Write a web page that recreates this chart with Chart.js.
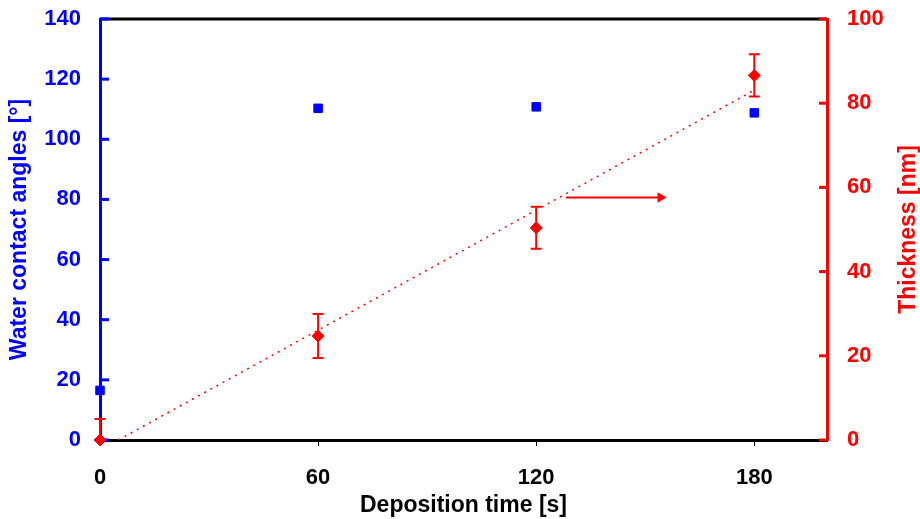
<!DOCTYPE html>
<html>
<head>
<meta charset="utf-8">
<script src="https://cdn.jsdelivr.net/npm/chart.js@4.4.1/dist/chart.umd.min.js"></script>
<style>
html, body { margin: 0; padding: 0; background: #fff; }
#wrap { width: 920px; height: 519px; }
</style>
</head>
<body>
<div id="wrap"><canvas id="chart"></canvas></div>
<script>
// data
var times = [0, 60, 120, 180];
var angles = [16.5, 110.3, 110.8, 108.8];
var thickness = [0, 24.7, 50.4, 86.6];
var thicknessErr = [5, 5.2, 5, 5];
var fitX = [0, 180];
var fitY = [-2.4, 83.1];
var arrowX = [128.2, 154.2];
var arrowY = [57.6, 57.6];
var xTicks = [0, 60, 120, 180];

var BLUE = '#0000ff';
var RED = '#ff0000';
var tickFont = { family: 'Liberation Sans, Arial, sans-serif', weight: 'bold', size: 22 };
var titleFont = { family: 'Liberation Sans, Arial, sans-serif', weight: 'bold', size: 23 };

function pts(xs, ys) {
	return xs.map(function(x, i) { return { x: x, y: ys[i] }; });
}

// fixed axis sizes so the plot area lands where it is in the picture
function fixWidth(w) {
	return function(scale) {
		scale.width = w;
		scale.paddingTop = 0;
		scale.paddingBottom = 0;
	};
}

var extras = {
	id: 'extras',
	beforeDatasetsDraw: function(chart) {
		var ctx = chart.ctx;
		var a = chart.chartArea;
		var x = chart.scales.x;
		var y = chart.scales.y;
		var y2 = chart.scales.y2;
		ctx.save();
		// top frame line
		ctx.strokeStyle = '#000';
		ctx.lineWidth = 3;
		ctx.beginPath();
		ctx.moveTo(a.left, a.top);
		ctx.lineTo(a.right, a.top);
		ctx.stroke();
		// inward ticks
		ctx.strokeStyle = BLUE;
		y.ticks.forEach(function(t) {
			var py = y.getPixelForValue(t.value);
			ctx.beginPath();
			ctx.moveTo(a.left, py);
			ctx.lineTo(a.left + 9, py);
			ctx.stroke();
		});
		ctx.strokeStyle = RED;
		y2.ticks.forEach(function(t) {
			var py = y2.getPixelForValue(t.value);
			ctx.beginPath();
			ctx.moveTo(a.right - 8, py);
			ctx.lineTo(a.right, py);
			ctx.stroke();
		});
		// error bars
		ctx.lineWidth = 2;
		for (var i = 0; i < times.length; i++) {
			var px = x.getPixelForValue(times[i]);
			var top = y2.getPixelForValue(thickness[i] + thicknessErr[i]);
			var bot = y2.getPixelForValue(Math.max(0, thickness[i] - thicknessErr[i]));
			ctx.beginPath();
			ctx.moveTo(px, top);
			ctx.lineTo(px, bot);
			ctx.moveTo(px - 5.5, top);
			ctx.lineTo(px + 5.5, top);
			if (thickness[i] - thicknessErr[i] > 0) {
				ctx.moveTo(px - 5.5, bot);
				ctx.lineTo(px + 5.5, bot);
			}
			ctx.stroke();
		}
		ctx.restore();
	},
	afterDraw: function(chart) {
		var ctx = chart.ctx;
		var a = chart.chartArea;
		ctx.save();
		ctx.translate(909, (a.top + a.bottom) / 2);
		ctx.rotate(-Math.PI / 2);
		ctx.fillStyle = RED;
		ctx.font = 'bold 23px "Liberation Sans", Arial, sans-serif';
		ctx.textAlign = 'center';
		ctx.textBaseline = 'middle';
		ctx.fillText('Thickness [nm]', 0, 0);
		ctx.restore();
	}
};

new Chart(document.getElementById('chart'), {
	type: 'scatter',
	data: {
		datasets: [{
			label: 'Water contact angle',
			data: pts(times, angles),
			yAxisID: 'y',
			pointStyle: 'rect',
			pointRadius: 6,
			backgroundColor: BLUE,
			borderColor: BLUE,
			borderWidth: 1,
			clip: false
		}, {
			label: 'Thickness',
			data: pts(times, thickness),
			yAxisID: 'y2',
			pointStyle: 'rectRot',
			pointRadius: 6,
			backgroundColor: RED,
			borderColor: RED,
			borderWidth: 1,
			clip: false
		}, {
			label: 'Fit',
			data: pts(fitX, fitY),
			yAxisID: 'y2',
			showLine: true,
			borderColor: RED,
			borderWidth: 1.5,
			borderDash: [2, 5],
			pointRadius: 0,
			clip: 0
		}, {
			label: 'Arrow',
			data: pts(arrowX, arrowY),
			yAxisID: 'y2',
			showLine: true,
			borderColor: RED,
			backgroundColor: RED,
			borderWidth: 2,
			pointStyle: 'triangle',
			pointRotation: 90,
			pointRadius: [0, 6],
			pointBorderWidth: 0,
			clip: false
		}]
	},
	options: {
		responsive: true,
		maintainAspectRatio: false,
		animation: false,
		events: [],
		layout: { padding: { top: 19, left: 0, right: 0, bottom: 0 } },
		plugins: {
			legend: { display: false },
			tooltip: { enabled: false }
		},
		scales: {
			x: {
				type: 'linear',
				min: 0,
				max: 200,
				afterBuildTicks: function(scale) {
					scale.ticks = xTicks.map(function(v) { return { value: v }; });
				},
				afterFit: function(scale) { scale.height = 79; },
				ticks: { color: '#000', font: tickFont, padding: 19 },
				grid: { display: true, drawOnChartArea: false, drawTicks: true, tickLength: 6, tickColor: '#000', lineWidth: 1 },
				border: { display: true, color: '#000', width: 3 },
				title: { display: true, text: 'Deposition time [s]', color: '#000', font: titleFont, padding: { top: 0, bottom: 0 } }
			},
			y: {
				position: 'left',
				min: 0,
				max: 140,
				afterFit: fixWidth(100),
				ticks: { stepSize: 20, color: BLUE, font: tickFont, padding: 19 },
				grid: { display: false, drawTicks: false },
				border: { display: true, color: BLUE, width: 3 },
				title: { display: true, text: 'Water contact angles [°]', color: BLUE, font: titleFont, padding: { top: 6, bottom: 0 } }
			},
			y2: {
				position: 'right',
				min: 0,
				max: 100,
				afterFit: fixWidth(93),
				ticks: { stepSize: 20, color: RED, font: tickFont, padding: 20 },
				grid: { display: false, drawTicks: false },
				border: { display: true, color: RED, width: 3 }
			}
		}
	},
	plugins: [extras]
});
</script>
</body>
</html>
